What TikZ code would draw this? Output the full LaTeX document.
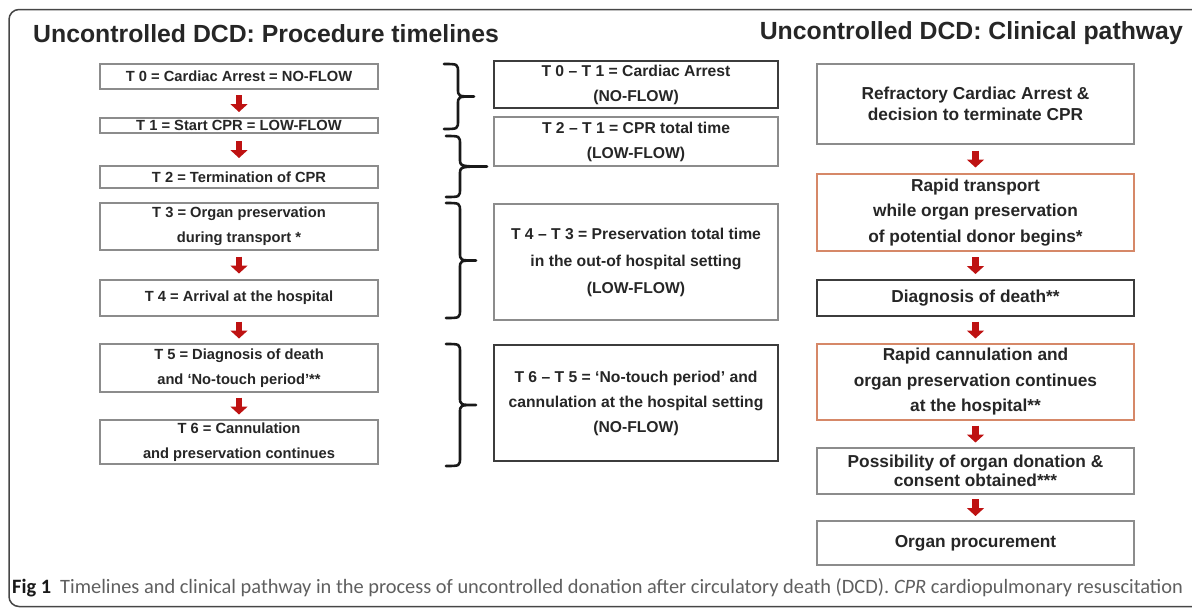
\documentclass[tikz,border=0pt]{standalone}
\usepackage{fontspec}
\setmainfont{Liberation Sans}
\newfontfamily\capfont{Carlito}
\usetikzlibrary{calc,arrows.meta}
\definecolor{boxgray}{RGB}{140,140,140}
\definecolor{boxdark}{RGB}{60,60,60}
\definecolor{boxorange}{RGB}{214,136,104}
\definecolor{arrred}{RGB}{190,18,18}
\definecolor{framecol}{RGB}{70,70,70}
\definecolor{capgray}{RGB}{95,95,95}
\tikzset{
  tbox/.style={draw=boxgray, line width=1.3pt, fill=white, align=center, inner sep=0pt,
    font=\bfseries\fontsize{14.7}{25}\selectfont, text=black!85},
  lbox/.style={tbox, minimum width=278, minimum height=#1},
  mbox/.style={tbox, minimum width=284, minimum height=#1, font=\bfseries\fontsize{15.7}{25}\selectfont},
  rbox/.style={tbox, minimum width=317, minimum height=#1, font=\bfseries\fontsize{17.3}{25.5}\selectfont},
  darkb/.style={draw=boxdark},
  orangeb/.style={draw=boxorange},
  flow/.style={line width=6.5pt, draw=arrred,
    -{Triangle[width=17pt,length=8pt,fill=arrred]},
    to path={($(\tikztostart.south)!0.5!(\tikztotarget.north)+(0,-8.5)$) -- ($(\tikztostart.south)!0.5!(\tikztotarget.north)+(0,8.5)$)}},
  bracestyle/.style={draw=black!90, line width=2.6pt, line cap=round, line join=round},
  header/.style={font=\bfseries\fontsize{24.8}{28}\selectfont, text=black!85, inner sep=0pt},
}
% curly brace: #1 = top coordinate, #2 = bottom coordinate, #3 = tip length
\newcommand{\curlybrace}[3]{%
  \path let \p1=(#1), \p2=(#2), \n1={0.5*(\y1+\y2)} in
    [bracestyle] (\x1,\y1) .. controls (\x1+14pt,\y1) .. (\x1+14pt,\y1-9pt)
    -- (\x1+14pt,\n1+8pt) .. controls (\x1+14pt,\n1) .. (\x1+#3,\n1)
    .. controls (\x1+14pt,\n1) .. (\x1+14pt,\n1-8pt)
    -- (\x1+14pt,\y2+9pt) .. controls (\x1+14pt,\y2) .. (\x1,\y2);}
\begin{document}
\begin{tikzpicture}[x=1pt,y=-1pt]
\useasboundingbox (0,0) rectangle (1192,608);
\clip (0,0) rectangle (1192,608);
\coordinate (fr1) at (1260,9.5);
\coordinate (fr2) at (9,9.5);
\coordinate (fr3) at (9,606.5);
\coordinate (fr4) at (1260,606.5);
\draw[draw=framecol, line width=1.5pt, rounded corners=10pt] (fr1) -- (fr2) -- (fr3) -- (fr4);

\node[header, anchor=west] (h1) at (33,33.5) {Uncontrolled DCD: Procedure timelines};
\node[header, anchor=east] (h2) at (1183,33.5) {Uncontrolled DCD: Clinical pathway};

% left column
\node[lbox=25] (T0) at (239,76.5) {T 0 = Cardiac Arrest = NO-FLOW};
\node[lbox=15] (T1) at (239,125.5) {T 1 = Start CPR = LOW-FLOW};
\node[lbox=22] (T2) at (239,177) {T 2 = Termination of CPR};
\node[lbox=47] (T3) at (239,226.5) {T 3 = Organ preservation\\during transport *};
\node[lbox=36] (T4) at (239,298) {T 4 = Arrival at the hospital};
\node[lbox=48] (T5) at (239,368) {T 5 = Diagnosis of death\\and ‘No-touch period’**};
\node[lbox=44] (T6) at (239,442) {T 6 = Cannulation\\and preservation continues};

\draw[flow] (T0) to (T1);
\draw[flow] (T1) to (T2);
\draw[flow] (T3) to (T4);
\draw[flow] (T4) to (T5);
\draw[flow] (T5) to (T6);

% middle column
\node[mbox=47, darkb] (M1) at (636,84.5) {T 0 -- T 1 = Cardiac Arrest\\(NO-FLOW)};
\node[mbox=49] (M2) at (636,141.5) {T 2 -- T 1 = CPR total time\\(LOW-FLOW)};
\node[mbox=116, font=\bfseries\fontsize{15.7}{27}\selectfont] (M3) at (636,262) {T 4 -- T 3 = Preservation total time\\in the out-of hospital setting\\(LOW-FLOW)};
\node[mbox=116, darkb] (M4) at (636,403) {T 6 -- T 5 = ‘No-touch period’ and\\cannulation at the hospital setting\\(NO-FLOW)};

% braces
\coordinate (b1a) at (444,64);
\coordinate (b1b) at (444,129);
\coordinate (b2a) at (446,136);
\coordinate (b2b) at (446,197);
\coordinate (b3a) at (446,203);
\coordinate (b3b) at (446,318);
\coordinate (b4a) at (446,344);
\coordinate (b4b) at (446,466);
\curlybrace{b1a}{b1b}{30pt}
\curlybrace{b2a}{b2b}{41pt}
\curlybrace{b3a}{b3b}{30pt}
\curlybrace{b4a}{b4b}{30pt}

% right column
\node[rbox=80, font=\bfseries\fontsize{17.3}{21}\selectfont] (R1) at (975.5,104) {Refractory Cardiac Arrest \&\\decision to terminate CPR};
\node[rbox=77, orangeb] (R2) at (975.5,212.5) {Rapid transport\\while organ preservation\\of potential donor begins*};
\node[rbox=36, darkb] (R3) at (975.5,298) {Diagnosis of death**};
\node[rbox=76, orangeb] (R4) at (975.5,382) {Rapid cannulation and\\organ preservation continues\\at the hospital**};
\node[rbox=46, font=\bfseries\fontsize{17.3}{19}\selectfont] (R5) at (975.5,471) {Possibility of organ donation \&\\consent obtained***};
\node[rbox=44] (R6) at (975.5,543) {Organ procurement};

\draw[flow] (R1) to (R2);
\draw[flow] (R2) to (R3);
\draw[flow] (R3) to (R4);
\draw[flow] (R4) to (R5);
\draw[flow] (R5) to (R6);

% caption
\node[anchor=base west, inner sep=0pt, font=\capfont\fontsize{20.4}{24}\selectfont, text=capgray] (cap) at (12,593)
  {\textcolor{black!90}{\textbf{Fig 1}}\hspace{9pt}Timelines and clinical pathway in the process of uncontrolled donation after circulatory death (DCD). \textit{CPR} cardiopulmonary resuscitation};
\end{tikzpicture}
\end{document}
